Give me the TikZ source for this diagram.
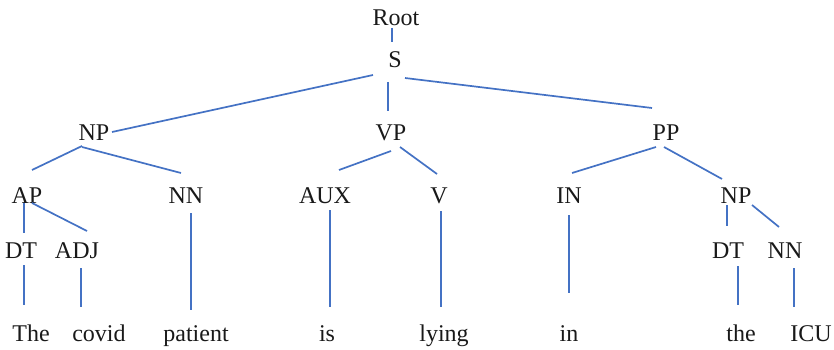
\documentclass[tikz,border=0pt]{standalone}
\usepackage{fontspec}
\setmainfont{Liberation Serif}
\definecolor{wordblue}{HTML}{4472C4}
\newcommand\edg[6]{\draw[edge] ([shift={(#2,#3)}]#1.base) -- ([shift={(#5,#6)}]#4.base);}
\begin{document}
\begin{tikzpicture}[x=1pt,y=-1pt,
  lbl/.style={anchor=base, inner sep=0pt, text=black!90, font=\fontsize{24}{24}\selectfont},
  edge/.style={draw=wordblue, line width=1.7pt}]
\useasboundingbox (0,0) rectangle (834,350);
% nodes
\node[lbl] (root) at (396,26) {Root};
\node[lbl] (S) at (395,68) {S};
\node[lbl] (NP) at (94,140) {NP};
\node[lbl] (VP) at (391,140) {VP};
\node[lbl] (PP) at (666,140) {PP};
\node[lbl] (AP) at (27,203) {AP};
\node[lbl] (NN) at (186,203) {NN};
\node[lbl] (AUX) at (325,203) {AUX};
\node[lbl] (V) at (439,203) {V};
\node[lbl] (IN) at (569,203) {IN};
\node[lbl] (NPb) at (736,203) {NP};
\node[lbl] (DT) at (21,258) {DT};
\node[lbl] (ADJ) at (77,258) {ADJ};
\node[lbl] (DTb) at (728,258) {DT};
\node[lbl] (NNb) at (785,258) {NN};
\node[lbl] (w1) at (31,341) {The};
\node[lbl] (w2) at (99,341) {covid};
\node[lbl] (w3) at (196,341) {patient};
\node[lbl] (w4) at (327,341) {is};
\node[lbl] (w5) at (444,341) {lying};
\node[lbl] (w6) at (569,341) {in};
\node[lbl] (w7) at (741,341) {the};
\node[lbl] (w8) at (811,341) {ICU};
% edges
\edg{root}{-4}{2}{S}{-3}{-26}
\edg{S}{-22}{7}{NP}{18}{-8}
\edg{S}{-7}{14}{VP}{-3}{-29}
\edg{S}{10}{10}{PP}{-14}{-32}
\edg{NP}{-12}{6}{AP}{5}{-33}
\edg{NP}{-12}{7}{NN}{-5}{-30}
\edg{VP}{0}{11}{AUX}{14}{-33}
\edg{VP}{9}{7}{V}{-2}{-29}
\edg{PP}{-10}{7}{IN}{3}{-30}
\edg{PP}{-2}{7}{NPb}{-14}{-24}
\edg{AP}{-3}{0}{DT}{3}{-25}
\edg{AP}{5}{0}{ADJ}{10}{-27}
\edg{NPb}{-9}{2}{DTb}{-1}{-32}
\edg{NPb}{16}{2}{NNb}{-6}{-31}
\edg{DT}{3}{7}{w1}{-7}{-36}
\edg{ADJ}{4}{10}{w2}{-18}{-34}
\edg{NN}{5}{10}{w3}{-5}{-31}
\edg{AUX}{5}{7}{w4}{3}{-34}
\edg{V}{2}{8}{w5}{-3}{-34}
\edg{IN}{0}{12}{w6}{0}{-48}
\edg{DTb}{10}{8}{w7}{-3}{-36}
\edg{NNb}{9}{10}{w8}{-17}{-34}
\end{tikzpicture}
\end{document}
